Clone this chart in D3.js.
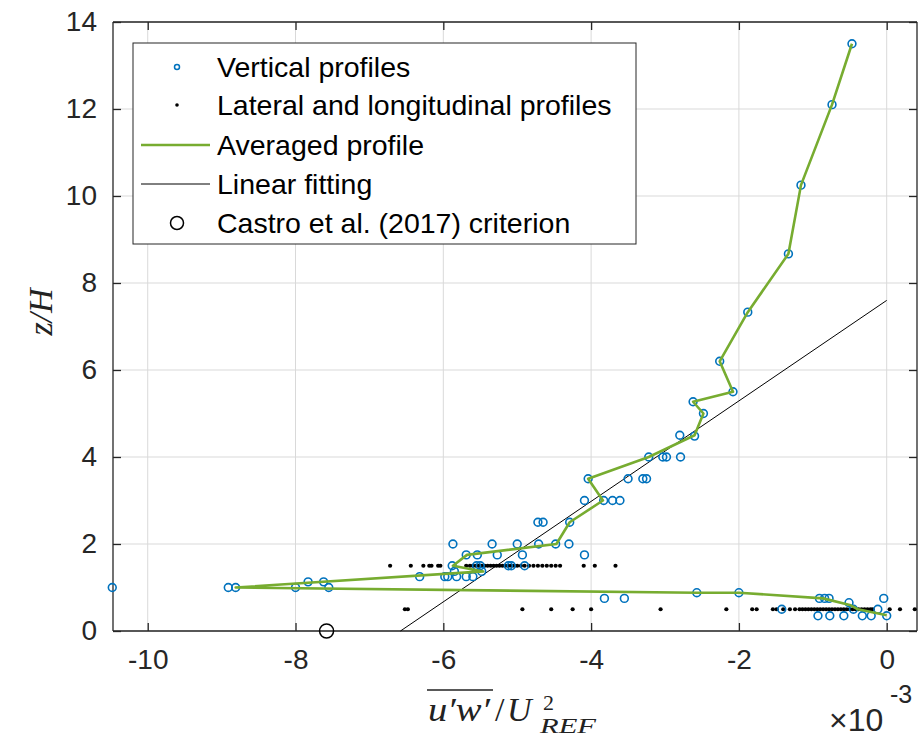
<!DOCTYPE html>
<html><head><meta charset="utf-8">
<script src="https://cdn.jsdelivr.net/npm/d3@7"></script>
<style>
html,body{margin:0;padding:0;background:#fff;}
svg{display:block;}
</style></head>
<body>
<svg id="chart" width="920" height="740"></svg>
<script>
// ---- data (x in units of 1e-3) ----
const xTicks = [-10, -8, -6, -4, -2, 0];
const yTicks = [0, 2, 4, 6, 8, 10, 12, 14];
const xDomain = [-10.47, 0.41];
const yDomain = [0, 14];

// vertical profiles (blue circles)
const vertX = [-0.47, -0.74, -1.16, -1.33, -1.88, -2.26, -2.08, -2.62, -2.48,
  -2.80, -2.60,
  -3.22, -3.03, -2.98, -2.79,
  -4.04, -3.50, -3.30, -3.25,
  -4.09, -3.83, -3.71, -3.61,
  -4.72, -4.65, -4.29,
  -5.87, -5.34, -5.00, -4.71, -4.48, -4.30,
  -5.69, -5.54, -5.27, -4.93, -4.09,
  -5.88, -5.55, -5.50, -5.12, -5.08, -4.90,
  -5.85, -5.48,
  -6.32, -5.98, -5.94, -5.82, -5.69, -5.60,
  -7.83, -7.62,
  -10.48, -8.91, -8.81, -8.00, -7.55,
  -2.57, -2.00,
  -3.82, -3.55, -0.91, -0.84, -0.78, -0.04,
  -0.51,
  -1.42, -0.12, -0.45,
  -0.93, -0.77, -0.58, -0.33, -0.21, 0.00];
const vertZ = [13.5, 12.1, 10.25, 8.67, 7.33, 6.2, 5.5, 5.27, 5.0,
  4.5, 4.48,
  4.0, 4.0, 4.0, 4.0,
  3.5, 3.5, 3.5, 3.5,
  3.0, 3.0, 3.0, 3.0,
  2.5, 2.5, 2.5,
  2.0, 2.0, 2.0, 2.0, 2.0, 2.0,
  1.75, 1.75, 1.75, 1.75, 1.75,
  1.5, 1.5, 1.5, 1.5, 1.5, 1.5,
  1.37, 1.37,
  1.25, 1.25, 1.25, 1.25, 1.25, 1.25,
  1.13, 1.13,
  1.0, 1.0, 1.0, 1.0, 1.0,
  0.88, 0.88,
  0.75, 0.75, 0.75, 0.75, 0.75, 0.75,
  0.65,
  0.5, 0.5, 0.5,
  0.35, 0.35, 0.35, 0.35, 0.35, 0.35];

// lateral and longitudinal profiles (black dots)
const latX = [-6.72, -6.44, -6.27, -6.19, -6.16, -6.07, -6.04,
  -5.69, -5.64, -5.60, -5.56, -5.52, -5.48, -5.44, -5.40, -5.36, -5.32, -5.28,
  -5.24, -5.20, -5.16, -5.12, -5.08, -5.04, -5.00, -4.95, -4.90, -4.84, -4.78,
  -4.72, -4.66, -4.60, -4.54, -4.48, -4.42,
  -4.10, -3.95, -3.67,
  -6.52, -6.48, -4.93, -4.54, -4.25, -4.00, -3.06, -2.17, -1.82, -1.76,
  -1.54, -1.49, -1.40, -1.31, -1.24,
  -1.18, -1.14, -1.10, -1.06, -1.02, -0.98, -0.94, -0.90, -0.86, -0.82, -0.78,
  -0.74, -0.70, -0.66, -0.62, -0.58, -0.54, -0.50, -0.46, -0.42, -0.38, -0.34,
  -0.30, -0.26, -0.22, -0.19,
  0.04, 0.18, 0.38];
const latZ = [1.5, 1.5, 1.5, 1.5, 1.5, 1.5, 1.5,
  1.5, 1.5, 1.5, 1.5, 1.5, 1.5, 1.5, 1.5, 1.5, 1.5, 1.5,
  1.5, 1.5, 1.5, 1.5, 1.5, 1.5, 1.5, 1.5, 1.5, 1.5, 1.5,
  1.5, 1.5, 1.5, 1.5, 1.5, 1.5,
  1.5, 1.5, 1.5,
  0.5, 0.5, 0.5, 0.5, 0.5, 0.5, 0.5, 0.5, 0.5, 0.5,
  0.5, 0.5, 0.5, 0.5, 0.5,
  0.5, 0.5, 0.5, 0.5, 0.5, 0.5, 0.5, 0.5, 0.5, 0.5, 0.5,
  0.5, 0.5, 0.5, 0.5, 0.5, 0.5, 0.5, 0.5, 0.5, 0.5, 0.5,
  0.5, 0.5, 0.5, 0.5,
  0.5, 0.5, 0.5];

// averaged profile (green line)
const avgX = [-0.47, -0.74, -1.16, -1.33, -1.88, -2.26, -2.08, -2.62, -2.48, -2.60,
  -3.22, -4.04, -3.84, -4.29, -4.47, -5.68, -5.87, -5.46, -8.81, -2.57, -2.00,
  -0.86, -0.50, -0.39, 0.00];
const avgZ = [13.5, 12.1, 10.25, 8.67, 7.33, 6.2, 5.5, 5.27, 5.0, 4.5,
  4.0, 3.5, 3.0, 2.5, 2.0, 1.75, 1.5, 1.37, 1.0, 0.88, 0.88,
  0.75, 0.6, 0.5, 0.36];

// linear fitting
const fitX = [-6.58, 0.0];
const fitZ = [0.0, 7.6];

// Castro et al. (2017) criterion
const castroX = [-7.58];
const castroZ = [0.0];

const legendLabels = ["Vertical profiles", "Lateral and longitudinal profiles",
  "Averaged profile", "Linear fitting", "Castro et al. (2017) criterion"];

// ---- drawing ----
const svg = d3.select("#chart");
const L = 113, R = 917, T = 22, B = 631;
const x = d3.scaleLinear().domain(xDomain).range([L, R]);
const y = d3.scaleLinear().domain(yDomain).range([B, T]);
const axisColor = "#262626";
const blue = "#0072BD", green = "#77AC30";
const sans = "'Liberation Sans', Arial, sans-serif";
const serif = "'Liberation Serif', 'Times New Roman', serif";

// grid
const grid = svg.append("g");
grid.selectAll("line.gx").data(xTicks).join("line")
  .attr("x1", d => x(d)).attr("x2", d => x(d)).attr("y1", T).attr("y2", B)
  .attr("stroke", "#d9d9d9").attr("stroke-width", 1);
grid.selectAll("line.gy").data(yTicks).join("line")
  .attr("y1", d => y(d)).attr("y2", d => y(d)).attr("x1", L).attr("x2", R)
  .attr("stroke", "#d9d9d9").attr("stroke-width", 1);

// axes
const tickLen = 8;
const xAxisB = d3.axisBottom(x).tickValues(xTicks).tickSize(-tickLen).tickPadding(18)
  .tickFormat(d => d3.format("d")(d).replace("−", "-"));
const gxB = svg.append("g").attr("transform", `translate(0,${B})`).call(xAxisB);
const xAxisT = d3.axisTop(x).tickValues(xTicks).tickSize(-tickLen).tickFormat("");
const gxT = svg.append("g").attr("transform", `translate(0,${T})`).call(xAxisT);
const yAxisL = d3.axisLeft(y).tickValues(yTicks).tickSize(-tickLen).tickPadding(16);
const gyL = svg.append("g").attr("transform", `translate(${L},0)`).call(yAxisL);
const yAxisR = d3.axisRight(y).tickValues(yTicks).tickSize(-tickLen).tickFormat("");
const gyR = svg.append("g").attr("transform", `translate(${R},0)`).call(yAxisR);
[gxB, gxT, gyL, gyR].forEach(g => {
  g.select(".domain").attr("stroke", axisColor).attr("stroke-width", 1.3);
  g.selectAll(".tick line").attr("stroke", axisColor).attr("stroke-width", 1.3);
  g.selectAll("text").attr("fill", axisColor).style("font-family", sans).style("font-size", "28px");
});
gxB.selectAll(".domain").attr("d", `M${L},0H${R}`);
gxT.selectAll(".domain").attr("d", `M${L},0H${R}`);
gyL.selectAll(".domain").attr("d", `M0,${B}V${T}`);
gyR.selectAll(".domain").attr("d", `M0,${B}V${T}`);

// linear fitting
svg.append("path").datum(d3.zip(fitX, fitZ))
  .attr("d", d3.line().x(d => x(d[0])).y(d => y(d[1])))
  .attr("fill", "none").attr("stroke", "#000").attr("stroke-width", 1);

// lateral & longitudinal dots
svg.append("g").selectAll("circle").data(d3.zip(latX, latZ)).join("circle")
  .attr("cx", d => x(d[0])).attr("cy", d => y(d[1])).attr("r", 2.1).attr("fill", "#000");

// vertical profiles
svg.append("g").selectAll("circle").data(d3.zip(vertX, vertZ)).join("circle")
  .attr("cx", d => x(d[0])).attr("cy", d => y(d[1])).attr("r", 3.9)
  .attr("fill", "none").attr("stroke", blue).attr("stroke-width", 1.6);

// averaged profile
svg.append("path").datum(d3.zip(avgX, avgZ))
  .attr("d", d3.line().x(d => x(d[0])).y(d => y(d[1])))
  .attr("fill", "none").attr("stroke", green).attr("stroke-width", 2.6)
  .attr("stroke-linejoin", "round");

// castro
svg.append("g").selectAll("circle").data(d3.zip(castroX, castroZ)).join("circle")
  .attr("cx", d => x(d[0])).attr("cy", d => y(d[1])).attr("r", 7)
  .attr("fill", "none").attr("stroke", "#000").attr("stroke-width", 1.5);

// legend
const lg = svg.append("g");
lg.append("rect").attr("x", 133).attr("y", 43).attr("width", 503).attr("height", 201)
  .attr("fill", "#fff").attr("stroke", axisColor).attr("stroke-width", 1);
const rowY = [67, 105, 145, 184, 223];
legendLabels.forEach((lab, i) => {
  lg.append("text").attr("x", 217).attr("y", rowY[i] + 10).text(lab)
    .attr("fill", "#000").style("font-family", sans).style("font-size", "28.5px");
});
lg.append("circle").attr("cx", 177).attr("cy", rowY[0]).attr("r", 2.5)
  .attr("fill", "none").attr("stroke", blue).attr("stroke-width", 1.5);
lg.append("circle").attr("cx", 177).attr("cy", rowY[1]).attr("r", 1.8).attr("fill", "#000");
lg.append("line").attr("x1", 141).attr("x2", 210).attr("y1", rowY[2]).attr("y2", rowY[2])
  .attr("stroke", green).attr("stroke-width", 2.6);
lg.append("line").attr("x1", 141).attr("x2", 210).attr("y1", rowY[3]).attr("y2", rowY[3])
  .attr("stroke", "#000").attr("stroke-width", 1);
lg.append("circle").attr("cx", 177).attr("cy", rowY[4]).attr("r", 6.5)
  .attr("fill", "none").attr("stroke", "#000").attr("stroke-width", 1.5);

// x label: overline(u'w')/U^2_REF
const xl = svg.append("g").style("font-family", serif).style("font-style", "italic").attr("fill", "#222");
xl.append("text").attr("x", 428).attr("y", 721).style("font-size", "34px")
  .attr("textLength", 62).attr("lengthAdjust", "spacingAndGlyphs").text("u′w′");
xl.append("line").attr("x1", 427).attr("x2", 493).attr("y1", 690).attr("y2", 690)
  .attr("stroke", "#222").attr("stroke-width", 1.6);
xl.append("text").attr("x", 495).attr("y", 721).style("font-size", "34px")
  .style("font-style", "normal").text("/");
xl.append("text").attr("x", 507).attr("y", 721).style("font-size", "34px").text("U");
xl.append("text").attr("x", 543).attr("y", 710).style("font-size", "22px")
  .style("font-style", "normal").text("2");
xl.append("text").attr("x", 540).attr("y", 733).style("font-size", "22px")
  .attr("textLength", 56).attr("lengthAdjust", "spacingAndGlyphs").text("REF");

// y label
svg.append("text").attr("transform", "translate(52,312) rotate(-90)")
  .attr("text-anchor", "middle").style("font-family", serif).style("font-style", "italic")
  .style("font-size", "34px").attr("fill", "#222").text("z/H");

// exponent
svg.append("text").attr("x", 829).attr("y", 731).style("font-family", sans)
  .style("font-size", "32px").attr("fill", axisColor).text("×10");
svg.append("text").attr("x", 890).attr("y", 703).style("font-family", sans)
  .style("font-size", "25px").attr("fill", axisColor).text("-3");
</script>
</body></html>
